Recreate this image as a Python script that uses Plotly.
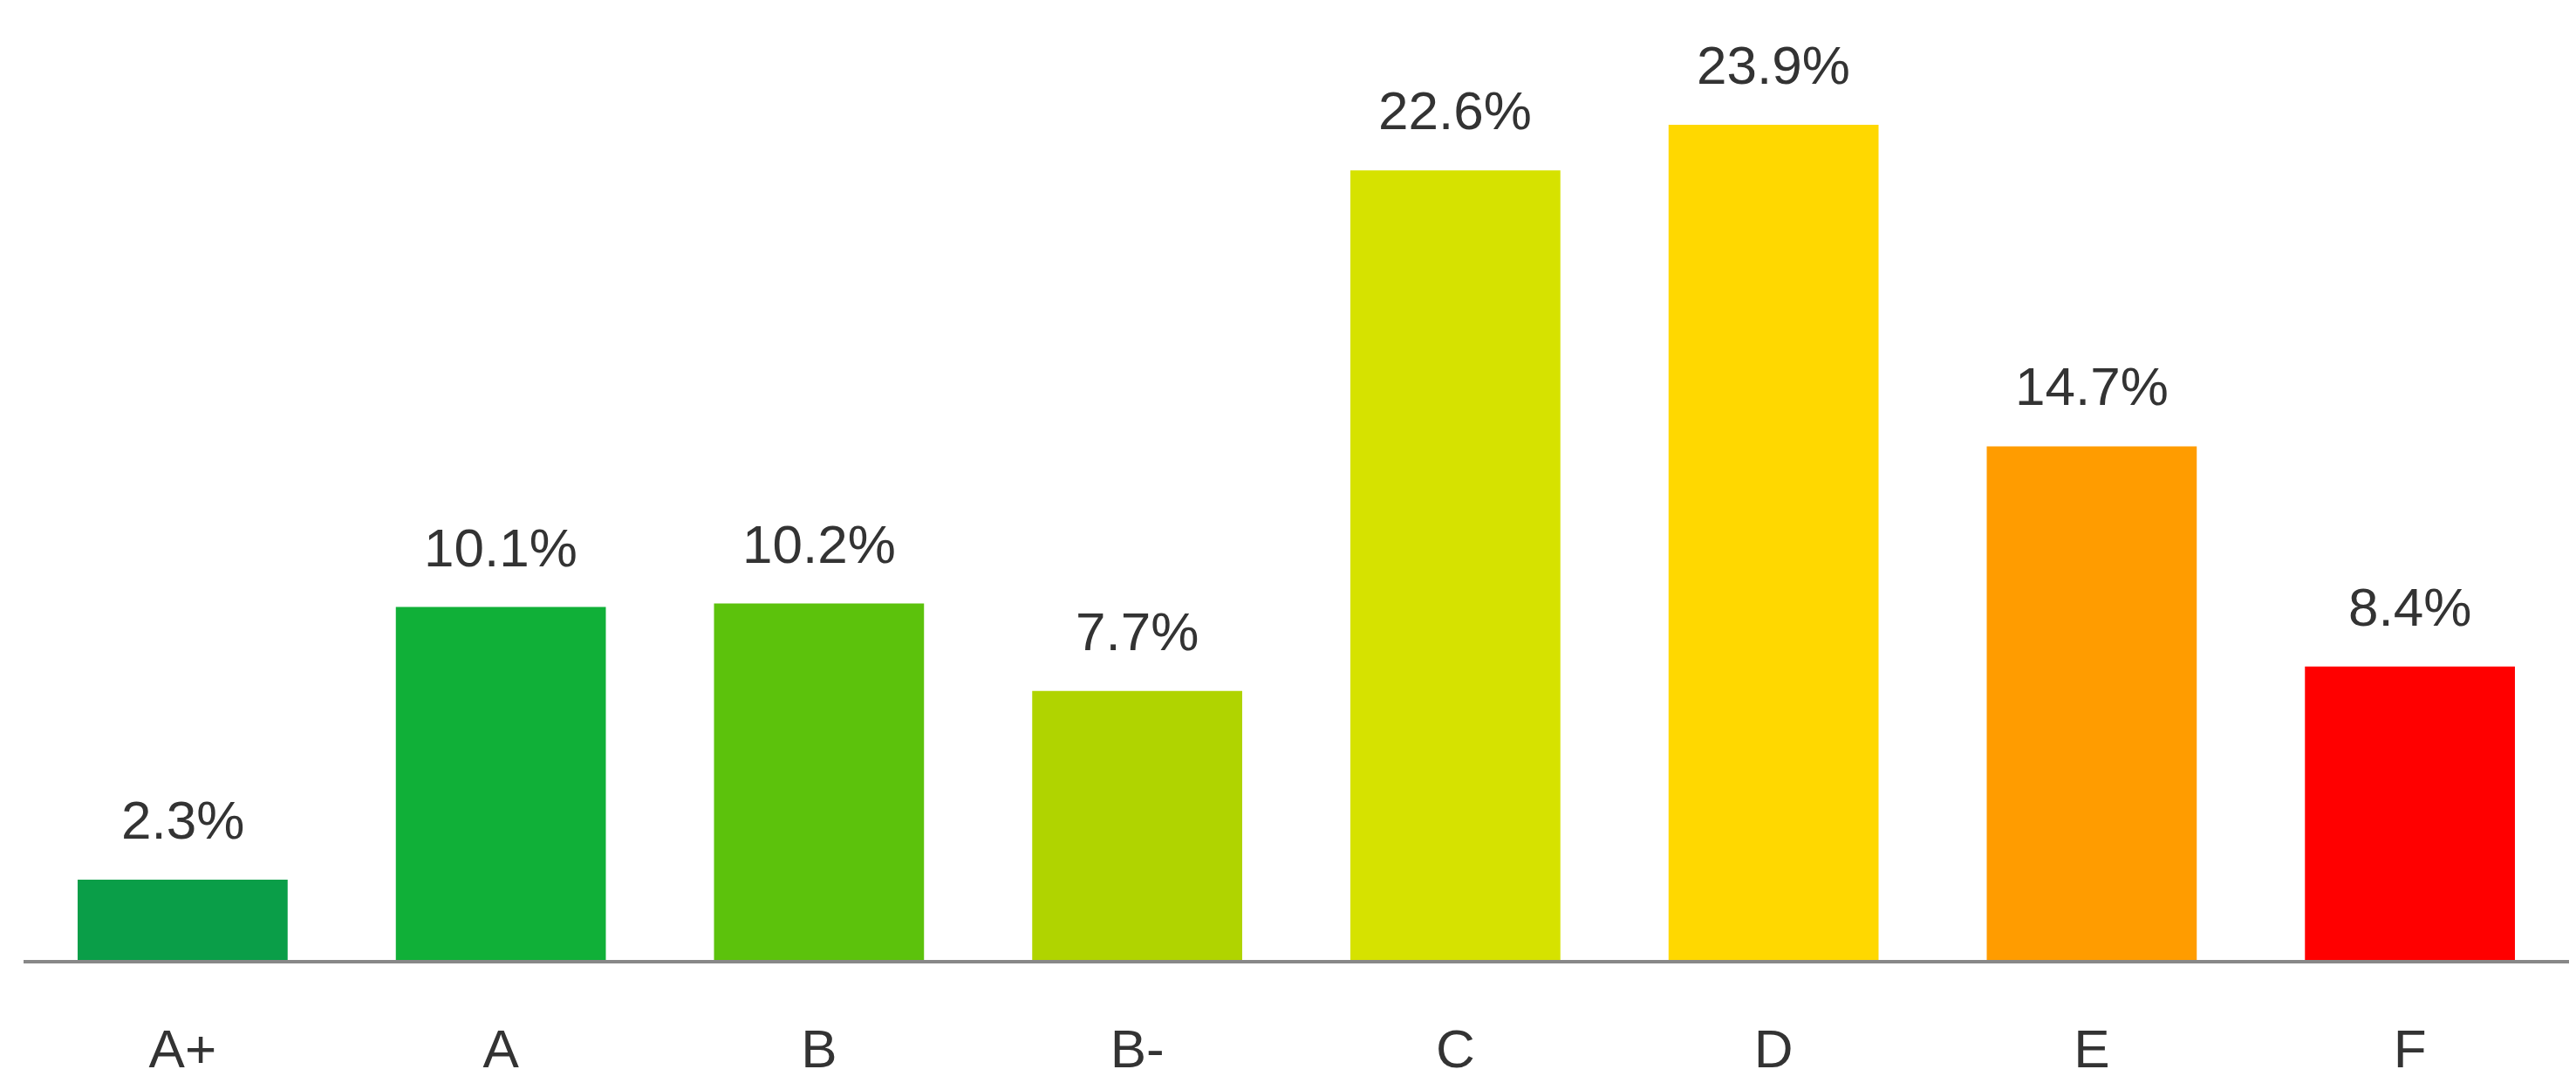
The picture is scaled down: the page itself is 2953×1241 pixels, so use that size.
import plotly.graph_objects as go

categories = ["A+", "A", "B", "B-", "C", "D", "E", "F"]
values = [2.3, 10.1, 10.2, 7.7, 22.6, 23.9, 14.7, 8.4]
labels = ["2.3%", "10.1%", "10.2%", "7.7%", "22.6%", "23.9%", "14.7%", "8.4%"]
colors = ["#0a9e48", "#10b038", "#5cc20c", "#b0d400", "#d6e200", "#ffd800", "#ff9c00", "#ff0000"]

font = dict(size=62, color="#333333", family="Liberation Sans")
fig = go.Figure(go.Bar(
    x=categories, y=values,
    marker=dict(color=colors, line=dict(width=0)),
    cliponaxis=False,
))
for c, v, t in zip(categories, values, labels):
    fig.add_annotation(x=c, y=v, text=t, showarrow=False, yanchor="bottom",
                       yshift=32, font=font)
fig.update_layout(
    width=2953, height=1241,
    margin=dict(l=19, r=16, t=51, b=149),
    paper_bgcolor="white", plot_bgcolor="white",
    bargap=0.34, showlegend=False,
    xaxis=dict(range=[-0.5, 7.5], showline=True, linecolor="#888888", linewidth=4,
               ticks="", ticklabelstandoff=45, tickfont=font),
    yaxis=dict(range=[0, 26], visible=False, showgrid=False),
)
fig.write_html("out.html")
